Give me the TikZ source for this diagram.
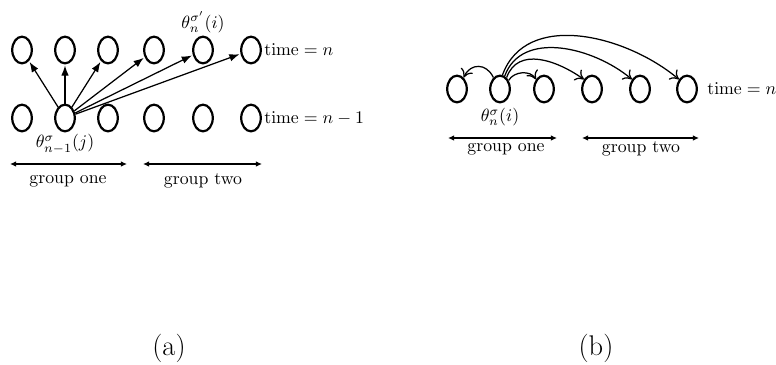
\documentclass[tikz,border=0pt]{standalone}
\usepackage{amsmath,amssymb}
\usepackage{tikz}
\usetikzlibrary{shapes.geometric,arrows.meta,positioning,calc}

\begin{document}
\begin{tikzpicture}[
    x=0.5625pt, y=-0.5625pt,
    node distance=1pt,
    circ/.style={ellipse, draw, line width=1.25pt, inner sep=0pt, minimum width=11pt, minimum height=15pt},
    arr/.style={-{Latex[length=2mm,width=1.5mm]}, line width=0.7pt, shorten >=0.6pt},
    curv/.style={-{To[length=1.6mm,width=2.6mm]}, line width=0.7pt},
    grp/.style={{Latex[length=1.2mm,width=1.1mm]}-{Latex[length=1.2mm,width=1.1mm]}, line width=0.7pt},
    lbl/.style={inner sep=0pt, anchor=west}
]
\useasboundingbox (0,0) rectangle (776,364);

% (a) two time steps
\foreach \i/\x in {1/22,2/65,3/108,4/154,5/203,6/251} {
  \node[circ] (t\i) at (\x,50) {};
  \node[circ] (s\i) at (\x,118) {};
}
\node[lbl] (tn) at (264,50) {$\mathrm{time} = n$};
\node[lbl] (tm) at (264,118) {$\mathrm{time} = n-1$};
\node[above=1.5pt of t5, inner sep=0pt] (ti) {$\theta_n^{\sigma'}(i)$};
\node[below=1pt of s2, inner sep=0pt] (sj) {$\theta_{n-1}^{\sigma}(j)$};

\foreach \j in {1,...,6} {
  \draw[arr] (s2) -- (t\j);
}

\coordinate (ga1) at (10,164);
\coordinate (ga2) at (127,164);
\coordinate (gb1) at (143,164);
\coordinate (gb2) at (262,164);
\draw[grp] (ga1) -- (ga2);
\draw[grp] (gb1) -- (gb2);
\node (g1) at (68,181) {group one};
\node (g2) at (203,181) {group two};

% (b) one time step
\foreach \i/\x in {1/457,2/500,3/544,4/592,5/640,6/687} {
  \node[circ] (r\i) at (\x,89) {};
}
\node[lbl] (rn) at (707,89) {$\mathrm{time} = n$};
\node[below=2.5pt of r2, inner sep=0pt] (ri) {$\theta_n^{\sigma}(i)$};

\draw[curv] (r2.120) to[out=115,in=65,looseness=1.4] (r1.60);
\draw[curv] (r2.45) to[out=60,in=120] (r3.130);
\draw[curv] (r2.60) to[out=70,in=145,looseness=1.1] (r4.130);
\draw[curv] (r2.70) to[out=70,in=140] (r5.130);
\draw[curv] (r2.80) to[out=70,in=140] (r6.130);

\coordinate (gc1) at (448,138);
\coordinate (gc2) at (557,138);
\coordinate (gd1) at (582,138);
\coordinate (gd2) at (699,138);
\draw[grp] (gc1) -- (gc2);
\draw[grp] (gd1) -- (gd2);
\node (g3) at (506,149) {group one};
\node (g4) at (641,149) {group two};

% captions
\node[font=\fontsize{16}{18}\selectfont] (ca) at (169,348) {(a)};
\node[font=\fontsize{16}{18}\selectfont] (cb) at (596,348) {(b)};
\end{tikzpicture}
\end{document}
